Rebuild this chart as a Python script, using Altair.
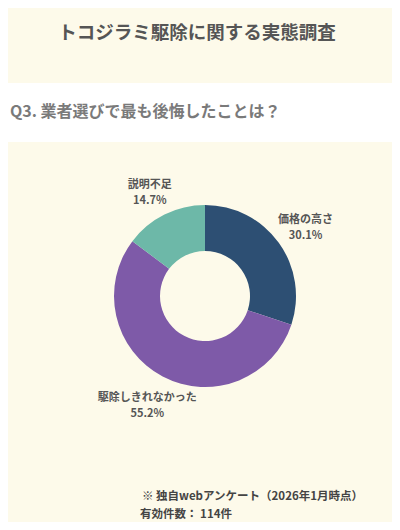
import altair as alt
import pandas as pd

categories = ["価格の高さ", "駆除しきれなかった", "説明不足"]
values = [30.1, 55.2, 14.7]
colors = ["#2d4f73", "#7e5aa8", "#6db8a8"]

title_text = "トコジラミ駆除に関する実態調査"
question_text = "Q3. 業者選びで最も後悔したことは？"
note1 = "※ 独自webアンケート（2026年1月時点）"
note2 = "有効件数： 114件"

df = pd.DataFrame({
    "cat": categories,
    "val": values,
    "idx": list(range(len(categories))),
})
df["label"] = [f"{c}\n{v:.1f}%" for c, v in zip(categories, values)]

FONT = "Noto Sans CJK JP"
CX, CY = 197, 288

band = alt.Chart(pd.DataFrame({"a": [0]})).mark_rect(color="white").encode(
    x=alt.value(-8), x2=alt.value(392), y=alt.value(75), y2=alt.value(134)
)

title = alt.Chart(pd.DataFrame({"t": [title_text]})).mark_text(
    font=FONT, fontSize=18.5, fontWeight="bold", color="#555555", align="center", baseline="middle"
).encode(text="t:N", x=alt.value(189), y=alt.value(25))

question = alt.Chart(pd.DataFrame({"t": [question_text]})).mark_text(
    font=FONT, fontSize=16, fontWeight="bold", color="#7a7a7a", align="left", baseline="middle"
).encode(text="t:N", x=alt.value(2), y=alt.value(104))

base = alt.Chart(df).encode(
    theta=alt.Theta("val:Q", stack=True),
    order=alt.Order("idx:Q"),
    color=alt.Color("cat:N", scale=alt.Scale(domain=categories, range=colors), legend=None),
)

arcs = base.mark_arc(outerRadius=91, innerRadius=45).encode(x=alt.value(CX), y=alt.value(CY))

label_style = dict(
    radius=124, font=FONT, fontSize=11, fontWeight="bold", color="#555555",
    lineBreak="\n", lineHeight=16, align="center", baseline="middle"
)
shifts = {"価格の高さ": (0, -3), "駆除しきれなかった": (0, -8), "説明不足": (0, 0)}
label_layers = []
for c in categories:
    ddx, ddy = shifts[c]
    label_layers.append(
        base.mark_text(dx=ddx, dy=ddy, **label_style).encode(
            text="label:N", x=alt.value(CX), y=alt.value(CY), color=alt.value("#555555"),
            opacity=alt.condition(alt.datum.cat == c, alt.value(1), alt.value(0)),
        )
    )

note_a = alt.Chart(pd.DataFrame({"t": [note1]})).mark_text(
    font=FONT, fontSize=11.5, fontWeight="bold", color="#444444", align="left", baseline="middle"
).encode(text="t:N", x=alt.value(134), y=alt.value(489))
note_b = alt.Chart(pd.DataFrame({"t": [note2]})).mark_text(
    font=FONT, fontSize=11.5, fontWeight="bold", color="#444444", align="left", baseline="middle"
).encode(text="t:N", x=alt.value(132), y=alt.value(507))

chart = alt.layer(band, title, question, arcs, *label_layers, note_a, note_b).properties(
    width=384, height=514, padding=0, autosize=alt.AutoSizeParams(type="none"),
    background="#fdfaea",
).configure_view(strokeWidth=0)

chart.save("out.html", embed_options={"renderer": "svg", "actions": False})
